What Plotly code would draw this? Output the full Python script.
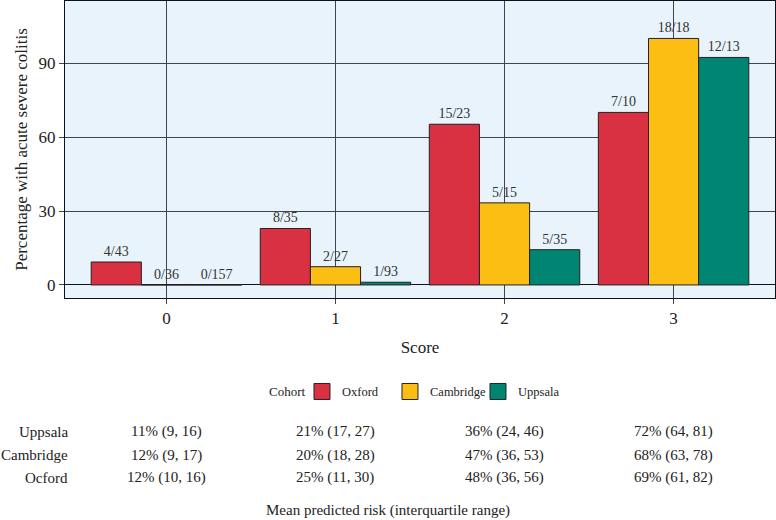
import plotly.graph_objects as go

scores = ["0", "1", "2", "3"]
cohorts = ["Oxford", "Cambridge", "Uppsala"]
colors = ["#D93042", "#FDBE14", "#008573"]

oxford_pct = [9.3, 22.9, 65.2, 70.0]
cambridge_pct = [0.0, 7.4, 33.3, 100.0]
uppsala_pct = [0.0, 1.1, 14.3, 92.3]

oxford_lbl = ["4/43", "8/35", "15/23", "7/10"]
cambridge_lbl = ["0/36", "2/27", "5/15", "18/18"]
uppsala_lbl = ["0/157", "1/93", "5/35", "12/13"]

table_rows = ["Uppsala", "Cambridge", "Ocford"]
table_uppsala = ["11% (9, 16)", "21% (17, 27)", "36% (24, 46)", "72% (64, 81)"]
table_cambridge = ["12% (9, 17)", "20% (18, 28)", "47% (36, 53)", "68% (63, 78)"]
table_ocford = ["12% (10, 16)", "25% (11, 30)", "48% (36, 56)", "69% (61, 82)"]

FONT = "Liberation Serif"

fig = go.Figure()
for name, vals, lbls, col in zip(cohorts, [oxford_pct, cambridge_pct, uppsala_pct],
                                 [oxford_lbl, cambridge_lbl, uppsala_lbl], colors):
    fig.add_trace(go.Bar(
        x=scores, y=vals, name=name, text=lbls, textposition="outside",
        textfont=dict(family=FONT, size=14, color="#333333"),
        marker=dict(color=col, line=dict(color="#222222", width=1)),
        cliponaxis=False, legendgroup=name, showlegend=False,
    ))
# legend keys (larger squares, linked to the bar traces)
for name, col in zip(cohorts, colors):
    fig.add_trace(go.Scatter(
        x=[None], y=[None], mode="markers", name=name, legendgroup=name,
        marker=dict(symbol="square", size=16, color=col, line=dict(color="#222222", width=1)),
        showlegend=True,
    ))

row_y = [-0.451, -0.529, -0.606]
for rname, cells, yy in zip(table_rows, [table_uppsala, table_cambridge, table_ocford], row_y):
    fig.add_annotation(text=rname, xref="paper", yref="paper", x=0.007, y=yy,
                       xanchor="right", yanchor="middle", showarrow=False,
                       font=dict(family=FONT, size=15, color="#222222"))
    for s, c in zip(scores, cells):
        fig.add_annotation(text=c, xref="x", yref="paper", x=s, y=yy,
                           xanchor="center", yanchor="middle", showarrow=False,
                           font=dict(family=FONT, size=15, color="#222222"))

fig.add_annotation(text="Mean predicted risk (interquartile range)", xref="paper", yref="paper",
                   x=0.455, y=-0.714, xanchor="center", yanchor="middle", showarrow=False,
                   font=dict(family=FONT, size=15, color="#222222"))

fig.add_annotation(text="Cohort", xref="paper", yref="paper",
                   x=0.313, y=-0.316, xanchor="center", yanchor="middle", showarrow=False,
                   font=dict(family=FONT, size=13, color="#222222"))

fig.update_layout(
    width=776, height=520,
    margin=dict(l=65, r=1, t=1, b=222),
    paper_bgcolor="white",
    plot_bgcolor="#E8F3FB",
    barmode="group", bargap=0.11, bargroupgap=0,
    font=dict(family=FONT, color="#222222"),
    showlegend=True,
    legend=dict(orientation="h", x=0.3338, xanchor="left", y=-0.316, yanchor="middle",
                font=dict(size=12.5), entrywidth=43, entrywidthmode="pixels",
                traceorder="normal", bgcolor="rgba(0,0,0,0)", itemsizing="trace"),
    xaxis=dict(
        title=dict(text="Score", font=dict(size=17), standoff=13),
        automargin=False,
        range=[-0.6, 3.6], showgrid=True, gridcolor="#444444", gridwidth=1,
        showline=True, linecolor="#111111", linewidth=1, mirror=True,
        ticks="outside", ticklen=5, tickcolor="#444444",
        tickfont=dict(size=17, color="#222222"),
    ),
    yaxis=dict(
        title=dict(text="Percentage with acute severe colitis", font=dict(size=17), standoff=6),
        automargin=False,
        range=[-5.3, 115.2], tickvals=[0, 30, 60, 90],
        showgrid=True, gridcolor="#444444", gridwidth=1,
        zeroline=True, zerolinecolor="#111111", zerolinewidth=1,
        showline=True, linecolor="#111111", linewidth=1, mirror=True,
        ticks="outside", ticklen=5, tickcolor="#444444",
        tickfont=dict(size=17, color="#222222"),
    ),
)

fig.write_html("out.html", config={"displayModeBar": False},
               post_script="document.body.style.margin='0';")
